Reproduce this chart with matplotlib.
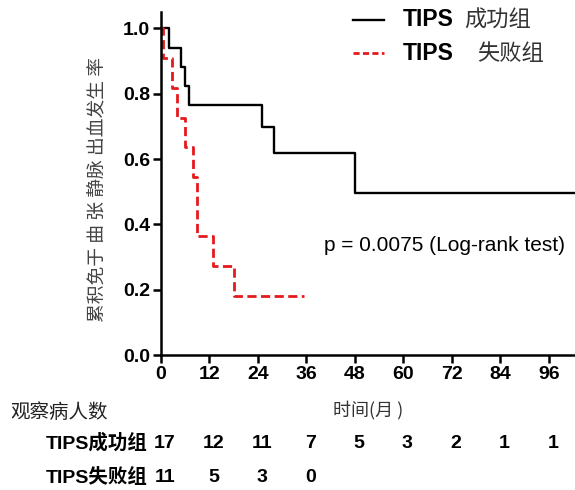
import matplotlib
matplotlib.use('Agg')
import matplotlib.pyplot as plt
from matplotlib.lines import Line2D

# Kaplan-Meier style curves (months, proportion free of variceal bleeding)
success_t = [0, 2, 5, 6, 7, 25, 28, 48, 104]
success_s = [1.0, 0.941, 0.882, 0.824, 0.765, 0.697, 0.619, 0.495, 0.495]
failure_t = [0, 0.5, 2.7, 3.9, 6, 8, 9, 12.8, 18, 35.5]
failure_s = [1.0, 0.909, 0.818, 0.727, 0.636, 0.545, 0.364, 0.273, 0.182, 0.182]

# numbers at risk
risk_times = [0, 12, 24, 36, 48, 60, 72, 84, 96]
success_risk = [17, 12, 11, 7, 5, 3, 2, 1, 1]
failure_risk = [11, 5, 3, 0]

x_ticks = [0, 12, 24, 36, 48, 60, 72, 84, 96]
y_ticks = [0.0, 0.2, 0.4, 0.6, 0.8, 1.0]

latin_cjk = ['Liberation Sans', 'Noto Sans CJK SC']
cjk = ['Noto Sans CJK SC', 'Liberation Sans']

W, H = 575, 490
fig = plt.figure(figsize=(W / 100, H / 100), dpi=100)
ax = fig.add_axes([161 / W, 1 - 355 / H, 1 - 161 / W, (355 - 12) / H])

ax.step(success_t, success_s, where='post', color='black', lw=1.7)
ax.step(failure_t, failure_s, where='post', color='#e41a1c', lw=2.0,
        linestyle=(0, (3.3, 1.6)))

ax.set_xlim(0, 102.5)
ax.set_ylim(0, 1.05)
ax.set_xticks(x_ticks)
ax.set_yticks(y_ticks)
ax.set_yticklabels([f'{v:.1f}' for v in y_ticks])
for side in ['top', 'right']:
    ax.spines[side].set_visible(False)
for side in ['left', 'bottom']:
    ax.spines[side].set_linewidth(1.8)
ax.tick_params(direction='out', length=6, width=1.8, labelsize=14, pad=2)
for lab in ax.get_xticklabels() + ax.get_yticklabels():
    lab.set_fontfamily('Liberation Sans')
    lab.set_fontweight('bold')

ax.set_ylabel('累积免于 曲 张 静脉 出血发生 率', family=cjk, fontsize=13.5,
              color='#444444')
ax.yaxis.set_label_coords(-0.13, 0.483)

ax.text(0.5, -0.16, '时间(月 )', transform=ax.transAxes, ha='center', va='center',
        family=cjk, fontsize=13, color='#333333')

ax.text(100, 0.335, 'p = 0.0075 (Log-rank test)', ha='right', va='center',
        family='Liberation Sans', fontsize=15)

# legend drawn by hand so that "TIPS" is bold and the Chinese is regular
fig.add_artist(Line2D([353 / W, 384 / W], [1 - 20 / H] * 2, color='black', lw=1.7,
                      transform=fig.transFigure))
fig.add_artist(Line2D([353 / W, 384 / W], [1 - 53 / H] * 2, color='#e41a1c', lw=2.0,
                      linestyle=(0, (2.2, 1.2)), transform=fig.transFigure))
fig.text(403 / W, 1 - 20 / H, 'TIPS', family='Liberation Sans', weight='bold',
         fontsize=16.5, va='center')
fig.text(464 / W, 1 - 20 / H, '成功组', family=cjk, fontsize=16, va='center',
         color='#333333')
fig.text(403 / W, 1 - 53 / H, 'TIPS', family='Liberation Sans', weight='bold',
         fontsize=16.5, va='center')
fig.text(477 / W, 1 - 53 / H, '失败组', family=cjk, fontsize=16, va='center',
         color='#333333')

# at-risk table
fig.text(10 / W, 1 - 412 / H, '观察病人数', family=cjk, fontsize=14,
         weight='medium', va='center', color='#222222')
fig.text(148 / W, 1 - 443 / H, 'TIPS成功组', family=latin_cjk, fontsize=14,
         weight='bold', va='center', ha='right')
fig.text(148 / W, 1 - 477 / H, 'TIPS失败组', family=latin_cjk, fontsize=14,
         weight='bold', va='center', ha='right')

tr = ax.get_xaxis_transform()
for t, n in zip(risk_times, success_risk):
    ax.text(t + 1, -0.2566, str(n), transform=tr, ha='center', va='center',
            family='Liberation Sans', weight='bold', fontsize=14, clip_on=False)
for t, n in zip(risk_times, failure_risk):
    ax.text(t + 1, -0.3557, str(n), transform=tr, ha='center', va='center',
            family='Liberation Sans', weight='bold', fontsize=14, clip_on=False)

fig.savefig('out.png', dpi=100)
